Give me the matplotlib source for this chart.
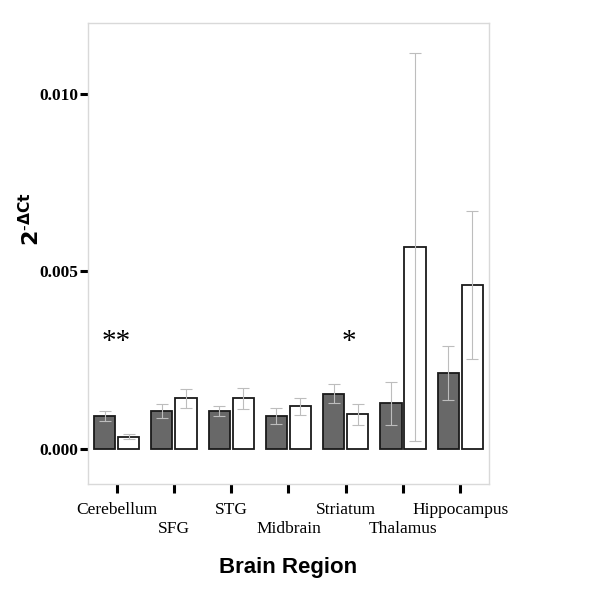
import matplotlib
matplotlib.use("Agg")
import matplotlib.pyplot as plt
import numpy as np

regions = ["Cerebellum", "SFG", "STG", "Midbrain", "Striatum", "Thalamus", "Hippocampus"]
grey_vals = [0.00092, 0.00106, 0.00106, 0.00092, 0.00155, 0.00128, 0.00214]
grey_err = [0.00014, 0.00019, 0.00013, 0.00023, 0.00026, 0.00061, 0.00076]
white_vals = [0.00034, 0.00142, 0.00142, 0.00119, 0.00097, 0.00569, 0.00462]
white_err = [0.00007, 0.00027, 0.00029, 0.00024, 0.00030, 0.00546, 0.00208]
stars = [("**", 0, 0.0030), ("*", 4.05, 0.0030)]
yticks = [0.000, 0.005, 0.010]

fig = plt.figure(figsize=(6, 5.89), dpi=100)
ax = fig.add_axes([0.1467, 0.178, 0.668, 0.783])

x = np.arange(len(regions))
w = 0.37
off = 0.21
ekw = dict(ecolor="#bdbdbd", elinewidth=0.8, capsize=4, capthick=0.8)
ax.bar(x - off, grey_vals, w, yerr=grey_err, color="#686868", edgecolor="#1a1a1a",
       linewidth=1.3, error_kw=ekw)
ax.bar(x + off, white_vals, w, yerr=white_err, color="white", edgecolor="#1a1a1a",
       linewidth=1.3, error_kw=ekw)

for s, xi, yi in stars:
    ax.text(xi, yi, s, ha="center", va="center", fontsize=21, family="Liberation Serif")

ax.set_xlim(-0.5, 6.5)
ax.set_ylim(-0.001, 0.012)
ax.set_yticks(yticks)
ax.set_yticklabels(["%.3f" % v for v in yticks], family="Liberation Serif",
                   fontweight="bold", fontsize=12.5)

# staggered category labels: even ones on major ticks, odd ones on minor ticks with a bigger pad
ax.set_xticks(x[::2])
ax.set_xticklabels(regions[::2], family="Liberation Serif", fontsize=12.5)
ax.set_xticks(x[1::2], minor=True)
ax.set_xticklabels(regions[1::2], minor=True, family="Liberation Serif", fontsize=12.5)
ax.tick_params(axis="y", length=6, width=2.2, pad=1)
ax.tick_params(axis="x", which="major", length=6.5, width=2.2, pad=6)
ax.tick_params(axis="x", which="minor", length=6.5, width=2.2, pad=20)

for sp in ax.spines.values():
    sp.set_color("#d9d9d9")
    sp.set_linewidth(1)

ax.set_ylabel(r"$\mathbf{2}^{\mathbf{\text{-}\Delta Ct}}$", fontsize=16, family="Liberation Sans")
ax.yaxis.set_label_coords(-0.11, 0.575)
ax.set_xlabel("Brain Region", fontsize=16, fontweight="bold", family="Liberation Sans")
ax.xaxis.set_label_coords(0.5, -0.158)

fig.savefig("out.png", dpi=100)
